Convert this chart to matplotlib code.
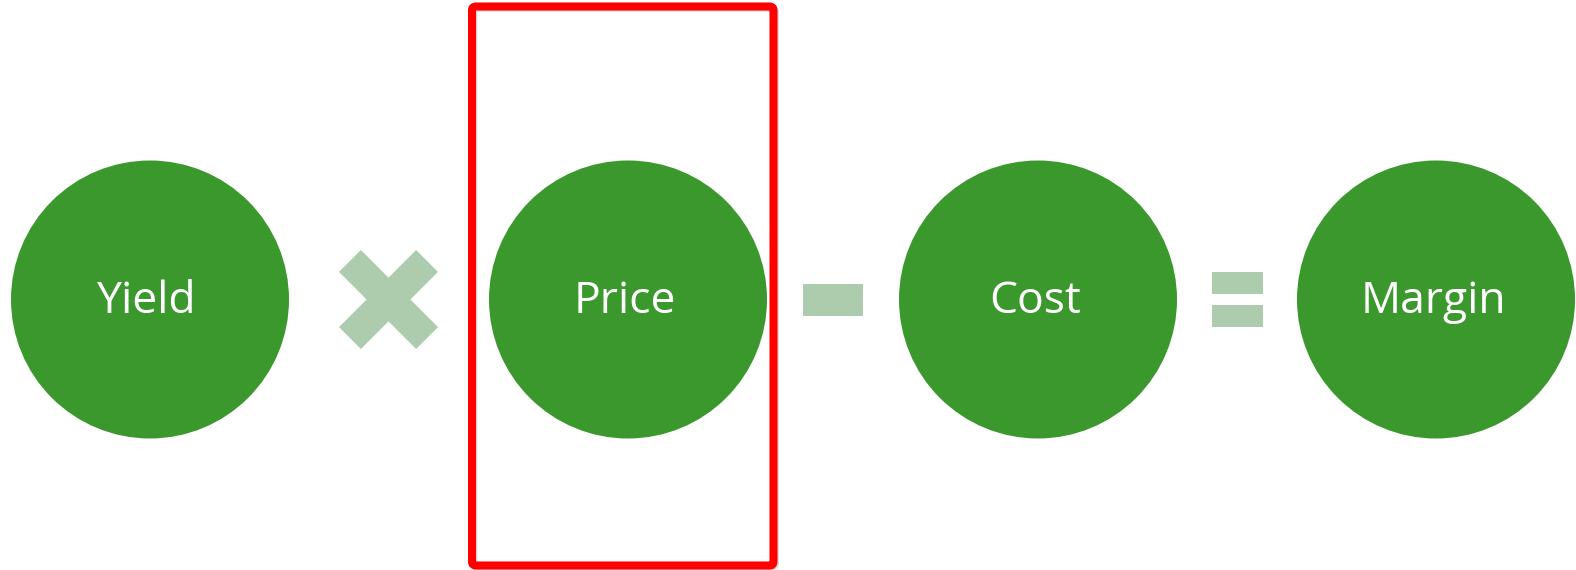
import matplotlib
matplotlib.use("Agg")
import matplotlib.pyplot as plt
import numpy as np
from matplotlib.patches import Circle, Polygon, Rectangle, FancyBboxPatch

W, H = 1576, 570

labels = ["Yield", "Price", "Cost", "Margin"]
operators = ["times", "minus", "equals"]

CIRCLE_X = [150, 628, 1038, 1436]
OP_X = [388.5, 833, 1237.5]
CY = 299.5
R = 139

GREEN = "#3a982c"
SOFT = "#adcbad"
RED = "#ff0000"

fig = plt.figure(figsize=(W / 100, H / 100), dpi=100)
ax = fig.add_axes([0, 0, 1, 1])
ax.set_xlim(0, W)
ax.set_ylim(H, 0)
ax.set_aspect("equal")
ax.axis("off")

for x, lab in zip(CIRCLE_X, labels):
    ax.add_patch(Circle((x, CY), R, facecolor=GREEN, edgecolor="none"))
    ax.text(x - 3, 313, lab, color="white", fontsize=32, family="Open Sans",
            ha="center", va="baseline")


def draw_times(cx, cy, half_len=54.5, thick=31):
    arm = np.array([[-half_len, -thick / 2], [half_len, -thick / 2],
                    [half_len, thick / 2], [-half_len, thick / 2]])
    for ang in (45, -45):
        a = np.deg2rad(ang)
        rot = np.array([[np.cos(a), -np.sin(a)], [np.sin(a), np.cos(a)]])
        pts = arm @ rot.T + [cx, cy]
        ax.add_patch(Polygon(pts, closed=True, facecolor=SOFT, edgecolor="none"))


def draw_minus(cx, cy):
    ax.add_patch(Rectangle((cx - 30, cy - 16), 60, 32, facecolor=SOFT,
                           edgecolor="none"))


def draw_equals(cx, cy):
    ax.add_patch(Rectangle((cx - 25.5, 272), 51, 22, facecolor=SOFT,
                           edgecolor="none"))
    ax.add_patch(Rectangle((cx - 25.5, 305), 51, 22, facecolor=SOFT,
                           edgecolor="none"))


for x, op in zip(OP_X, operators):
    {"times": draw_times, "minus": draw_minus, "equals": draw_equals}[op](x, CY)

# highlight box around Price (with a faint shadow)
ax.add_patch(FancyBboxPatch((474, 8.5), 301.5, 559,
                            boxstyle="round,pad=0,rounding_size=4",
                            facecolor="none", edgecolor="#bbbbbb", lw=5,
                            alpha=0.5, zorder=4))
ax.add_patch(FancyBboxPatch((472, 6.5), 301.5, 559,
                            boxstyle="round,pad=0,rounding_size=4",
                            facecolor="none", edgecolor=RED, lw=5.8,
                            zorder=5))

fig.savefig("out.png", dpi=100)
